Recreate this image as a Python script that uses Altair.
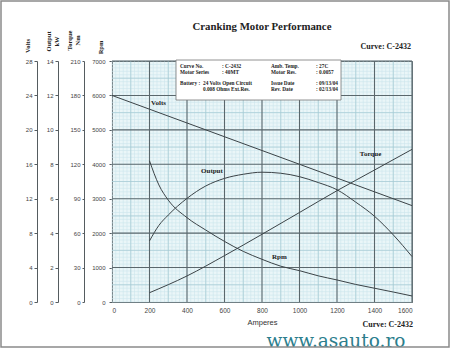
import altair as alt
import pandas as pd

# ---------------- data ----------------
amps_volts = [0, 200, 600, 1000, 1400, 1600]
volts = [24.0, 22.4, 19.2, 16.0, 12.8, 11.2]

amps_curve = [200, 250, 300, 400, 500, 600, 700, 800, 900, 1000, 1100, 1200, 1300, 1400, 1500, 1600]
output_kw = [3.55, 4.45, 5.05, 6.02, 6.74, 7.18, 7.42, 7.54, 7.48, 7.28, 6.94, 6.52, 5.80, 4.98, 3.90, 2.64]
rpm = [4100, 3400, 2960, 2450, 2090, 1760, 1470, 1240, 1040, 910, 760, 640, 510, 400, 290, 175]

amps_torque = [200, 400, 600, 800, 1000, 1200, 1400, 1600]
torque_nm = [8.1, 22.7, 40.4, 59.0, 78.0, 97.0, 115.0, 133.0]

x_ticks = [0, 200, 400, 600, 800, 1000, 1200, 1400, 1600]
volt_ticks = [0, 4, 8, 12, 16, 20, 24, 28]
kw_ticks = [0, 2, 4, 6, 8, 10, 12, 14]
nm_ticks = [0, 30, 60, 90, 120, 150, 180, 210]
rpm_ticks = [0, 1000, 2000, 3000, 4000, 5000, 6000, 7000]

grid_x_minor = list(range(0, 1601, 20))
grid_x_mid = list(range(100, 1601, 200))
grid_x_major = list(range(200, 1601, 200))
grid_y_minor = list(range(0, 7001, 100))
grid_y_mid = list(range(500, 7001, 1000))
grid_y_major = list(range(1000, 7001, 1000))

label_text = ["Volts", "Output", "Torque", "Rpm"]
label_amps = [248, 533, 1379, 893]
label_rpm = [5780, 3813, 4300, 1307]

info_left = ["Curve No.", "Motor Series", "Battery :", ""]
info_mid = [": C-2432", ": 40MT", "24 Volts Open Circuit", "0.008 Ohms Ext.Res."]
info_key = ["Amb. Temp.", "Motor Res.", "Issue Date", "Rev. Date"]
info_val = [": 27C", ": 0.0057", ": 09/13/04", ": 02/13/04"]

# ---------------- styling ----------------
W, H = 300, 241
PADL, PADT = 112, 61
CURVE = "#3b4347"
AXC = "#555c60"
SERIF = "Liberation Serif"
SANS = "Liberation Sans"

xscale = alt.Scale(domain=[0, 1600], nice=False, zero=False)
rpm_scale = alt.Scale(domain=[0, 7000], nice=False)

X_AXIS = alt.Axis(values=x_ticks, ticks=False, domain=False, grid=False,
                  labelFont=SANS, labelFontSize=6.5, labelColor="#444",
                  labelPadding=5, title="Amperes", titleFont=SANS,
                  titleFontSize=7.5, titleFontWeight="normal",
                  titleColor="#333", titlePadding=5, format="d")


def xenc():
    return alt.X("a:Q", scale=xscale, axis=X_AXIS)


def yaxis(title, offset, values, tick, pad, tx, ty):
    return alt.Axis(
        orient="left", offset=offset, values=values, title=title, format="d",
        titleAngle=270, titleAlign="center", titleBaseline="middle",
        titleX=tx, titleY=ty, titleFont=SERIF, titleFontWeight="bold",
        titleFontSize=6.5, titleColor="#222", labelFont=SANS, labelFontSize=6,
        labelColor="#444", labelPadding=pad, tickSize=tick, tickColor=AXC,
        domainColor=AXC, domainWidth=1, grid=False,
    )


def rules_x(vals, color, width):
    return alt.Chart(pd.DataFrame({"a": vals})).mark_rule(
        color=color, strokeWidth=width).encode(x=xenc())


def rules_y(vals, color, width):
    return alt.Chart(pd.DataFrame({"r": vals})).mark_rule(
        color=color, strokeWidth=width).encode(
        y=alt.Y("r:Q", scale=rpm_scale, axis=None))


one = pd.DataFrame({"k": [0]})

layers = [
    rules_x(grid_x_minor, "#cde6ed", 0.6),
    rules_y(grid_y_minor, "#cde6ed", 0.6),
    rules_x(grid_x_mid, "#a3c9d3", 0.7),
    rules_y(grid_y_mid, "#a3c9d3", 0.7),
    rules_x(grid_x_major, "#5a676c", 1.1),
    rules_y(grid_y_major, "#5a676c", 1.1),
]

volts_df = pd.DataFrame({"a": amps_volts, "v": volts})
layers.append(
    alt.Chart(volts_df).mark_line(color=CURVE, strokeWidth=1).encode(
        x=xenc(),
        y=alt.Y("v:Q", scale=alt.Scale(domain=[0, 28], nice=False),
                axis=yaxis("Volts", 75, volt_ticks, 3, 2, -10, -15.5)),
    )
)

out_df = pd.DataFrame({"a": amps_curve, "o": output_kw})
layers.append(
    alt.Chart(out_df).mark_line(color=CURVE, strokeWidth=1, interpolate="monotone").encode(
        x=xenc(),
        y=alt.Y("o:Q", scale=alt.Scale(domain=[0, 14], nice=False),
                axis=yaxis(["Output", "kW"], 54, kw_ticks, 3, 2, -10, -20)),
    )
)

tq_df = pd.DataFrame({"a": amps_torque, "t": torque_nm})
layers.append(
    alt.Chart(tq_df).mark_line(color=CURVE, strokeWidth=1, interpolate="monotone").encode(
        x=xenc(),
        y=alt.Y("t:Q", scale=alt.Scale(domain=[0, 210], nice=False),
                axis=yaxis(["Torque", "Nm"], 28, nm_ticks, 2, 2, -15, -21)),
    )
)

rpm_df = pd.DataFrame({"a": amps_curve, "r": rpm})
layers.append(
    alt.Chart(rpm_df).mark_line(color=CURVE, strokeWidth=1, interpolate="monotone").encode(
        x=xenc(),
        y=alt.Y("r:Q", scale=rpm_scale,
                axis=yaxis("Rpm", 0, rpm_ticks, 3, 4, -12, -14)),
    )
)

lab_df = pd.DataFrame({"a": label_amps, "r": label_rpm, "t": label_text})
layers.append(
    alt.Chart(lab_df).mark_text(font=SERIF, fontWeight="bold", fontSize=7,
                                color="#222", align="center", baseline="middle").encode(
        x=xenc(), y=alt.Y("r:Q", scale=rpm_scale, axis=None), text="t:N")
)

# info box
layers.append(
    alt.Chart(one).mark_rect(fill="white", stroke="#777", strokeWidth=0.8).encode(
        x=alt.value(64), x2=alt.value(229), y=alt.value(-1), y2=alt.value(39))
)
rows_y = [4.7, 11, 22.3, 28]
info_rows = []
for col_x, texts in [(68, info_left), (110, info_mid), (159, info_key), (204, info_val)]:
    for yy, t in zip(rows_y, texts):
        info_rows.append({"px": col_x, "py": yy, "t": t})
for r in info_rows:
    if r["t"] in ("24 Volts Open Circuit", "0.008 Ohms Ext.Res."):
        r["px"] = 91
info_df = pd.DataFrame(info_rows)
layers.append(
    alt.Chart(info_df).mark_text(font=SERIF, fontWeight="bold", fontSize=5.3,
                                 color="#222", align="left", baseline="middle").encode(
        x=alt.X("px:Q", scale=None), y=alt.Y("py:Q", scale=None), text="t:N")
)

# titles / captions
cap_df = pd.DataFrame({
    "px": [150, 299, 301],
    "py": [-34, -14, 264],
    "t": ["Cranking Motor Performance", "Curve: C-2432", "Curve: C-2432"],
})
layers.append(
    alt.Chart(cap_df.iloc[[0]]).mark_text(font=SERIF, fontWeight="bold", fontSize=10.8,
                                         color="#222", align="center", baseline="middle").encode(
        x=alt.X("px:Q", scale=None), y=alt.Y("py:Q", scale=None), text="t:N")
)
layers.append(
    alt.Chart(cap_df.iloc[[1, 2]]).mark_text(font=SERIF, fontWeight="bold", fontSize=8,
                                            color="#222", align="right", baseline="middle").encode(
        x=alt.X("px:Q", scale=None), y=alt.Y("py:Q", scale=None), text="t:N")
)
wm_df = pd.DataFrame({"px": [224], "py": [280], "t": ["www.asauto.ro"]})
layers.append(
    alt.Chart(wm_df).mark_text(font="DejaVu Serif", fontSize=18.5, color="#2c7e8d",
                               align="center", baseline="middle").encode(
        x=alt.X("px:Q", scale=None), y=alt.Y("py:Q", scale=None), text="t:N")
)

# outer frame
layers.append(
    alt.Chart(one).mark_rect(fill=None, stroke="#8a8a8a", strokeWidth=1.5).encode(
        x=alt.value(-111), x2=alt.value(337), y=alt.value(-60), y2=alt.value(286))
)

chart = alt.layer(*layers).resolve_scale(y="independent").properties(
    width=W, height=H,
    autosize=alt.AutoSizeParams(type="none"),
    padding={"left": PADL, "top": PADT, "right": 453 - PADL - W, "bottom": 350 - PADT - H},
    background="white",
).configure_view(fill="#eaf6f8", stroke="#4a5559", strokeWidth=1)

chart.save("out.html", embed_options={"renderer": "svg", "actions": False})
